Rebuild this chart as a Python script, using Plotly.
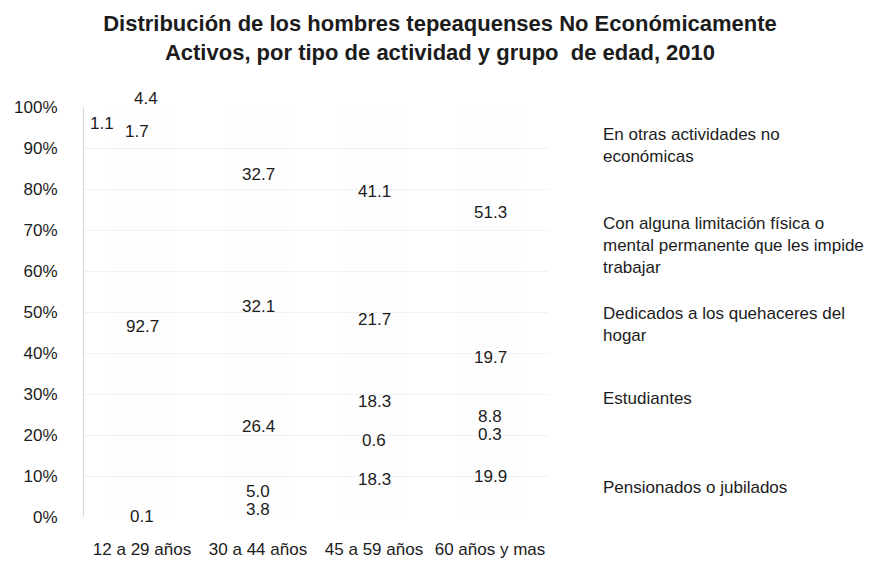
import plotly.graph_objects as go

categories = ["12 a 29 años", "30 a 44 años", "45 a 59 años", "60 años y mas"]

# stacked from bottom to top
pensionados = [0.1, 3.8, 18.3, 19.9]
estudiantes = [92.7, 5.0, 0.6, 0.3]
hogar = [1.1, 26.4, 18.3, 8.8]
limitacion = [1.7, 32.1, 21.7, 19.7]
otras = [4.4, 32.7, 41.1, 51.3]

series_names = [
    "Pensionados o jubilados",
    "Estudiantes",
    "Dedicados a los quehaceres del<br>hogar",
    "Con alguna limitación física o<br>mental permanente que les impide<br>trabajar",
    "En otras actividades no<br>económicas",
]
series_values = [pensionados, estudiantes, hogar, limitacion, otras]

y_ticks = [0, 10, 20, 30, 40, 50, 60, 70, 80, 90, 100]
y_ticktext = [f"{t}%" for t in y_ticks]

FONT = "Liberation Sans, Arial, sans-serif"
TXT = "#1c1c1c"

# the page places the figure 8px in from the top-left corner
W, H = 867, 554
L, T = 76, 99
PW, PH = 464, 410

fig = go.Figure()
for name, vals in zip(series_names, series_values):
    fig.add_bar(
        x=categories, y=vals, name=name.replace("<br>", " "),
        marker=dict(color="rgba(235,235,235,0.05)", line=dict(width=0)),
        width=0.55, showlegend=False,
    )

# data labels at segment centres
label_shift = {  # (series index, category index): (xshift, yshift)
    (2, 0): (-40, 11),
    (3, 0): (-5, -3),
    (4, 0): (4, 18),
}
annotations = []
base = [0.0] * len(categories)
for si, vals in enumerate(series_values):
    for ci, v in enumerate(vals):
        center = base[ci] + v / 2
        xs, ys = label_shift.get((si, ci), (0, 0))
        annotations.append(dict(
            x=categories[ci], y=center, xref="x", yref="y",
            text=f"{v:.1f}", showarrow=False, xshift=xs, yshift=ys,
            font=dict(family=FONT, size=17, color=TXT),
        ))
        base[ci] += v

# legend texts on the right (top to bottom), centres in plot-pixel terms
legend_pos = {4: 137.5, 3: 237, 2: 316.5, 1: 390, 0: 479}
for si, py in legend_pos.items():
    annotations.append(dict(
        x=(593 - L) / PW, y=1 - (py - T) / PH,
        xref="paper", yref="paper", xanchor="left", yanchor="middle",
        align="left", text=series_names[si], showarrow=False,
        font=dict(family=FONT, size=17, color=TXT),
    ))

fig.update_layout(
    width=W, height=H,
    barmode="stack",
    paper_bgcolor="white", plot_bgcolor="white",
    margin=dict(l=L, r=W - L - PW, t=T, b=H - T - PH),
    title=dict(
        text="Distribución de los hombres tepeaquenses No Económicamente<br>Activos, por tipo de actividad y grupo  de edad, 2010",
        x=432 / W, xref="container", xanchor="center",
        y=1 - 23 / H, yref="container", yanchor="middle",
        font=dict(family=FONT, size=22, color=TXT, weight=700),
    ),
    annotations=annotations,
    bargap=0.45,
)
fig.update_yaxes(
    range=[0, 100], tickvals=y_ticks, ticktext=y_ticktext,
    tickfont=dict(family=FONT, size=17, color=TXT),
    showgrid=True, gridcolor="#f2f2f2", gridwidth=1,
    showline=True, linecolor="#d8d8d8", linewidth=1,
    ticks="", ticklabelstandoff=22, zeroline=False, automargin=False,
)
fig.update_xaxes(
    tickfont=dict(family=FONT, size=17, color=TXT),
    showline=False, ticks="", ticklabelstandoff=20, automargin=False,
)

fig.write_html("out.html")
